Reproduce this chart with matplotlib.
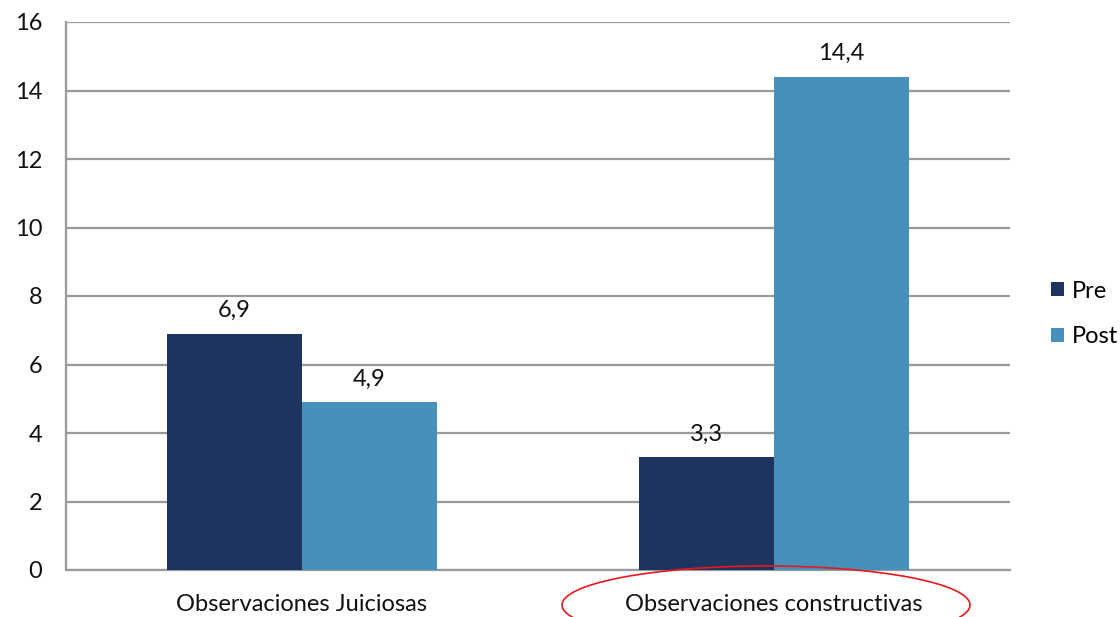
import matplotlib.pyplot as plt
import numpy as np
from matplotlib.patches import Ellipse

plt.rcParams['font.family'] = ['Lato', 'DejaVu Sans']

categorias = ["Observaciones Juiciosas", "Observaciones constructivas"]
series = ["Pre", "Post"]
pre = [6.9, 3.3]
post = [4.9, 14.4]
etiquetas_pre = ["6,9", "3,3"]
etiquetas_post = ["4,9", "14,4"]

color_pre = '#1d3461'
color_post = '#4690b9'
gris = '#9a9a9a'
tam = 17

fig = plt.figure(figsize=(11.2, 6.17), dpi=100)
ax = fig.add_axes([66 / 1120, 1 - 570 / 617, 944 / 1120, 548 / 617])

x = np.arange(len(categorias))
ancho = 0.286
b1 = ax.bar(x - ancho / 2, pre, ancho, color=color_pre, label=series[0], zorder=3)
b2 = ax.bar(x + ancho / 2, post, ancho, color=color_post, label=series[1], zorder=3)

for rects, textos in ((b1, etiquetas_pre), (b2, etiquetas_post)):
    for r, t in zip(rects, textos):
        ax.annotate(t, (r.get_x() + r.get_width() / 2, r.get_height()),
                    xytext=(0, 9), textcoords='offset points',
                    ha='center', va='bottom', fontsize=tam, color='#111111')

ax.set_xlim(-0.5, 1.5)
ax.set_ylim(0, 16)
ax.set_yticks(range(0, 17, 2))
ax.set_xticks(x)
ax.set_xticklabels(categorias)
ax.tick_params(axis='both', length=0, labelsize=tam, colors='#111111')
ax.tick_params(axis='y', pad=17)
ax.tick_params(axis='x', pad=17)
ax.yaxis.grid(True, color=gris, linewidth=1.6, zorder=0)

for lado in ('top', 'right'):
    ax.spines[lado].set_visible(False)
ax.spines['left'].set_color(gris)
ax.spines['left'].set_linewidth(1.6)
ax.spines['bottom'].set_color(gris)
ax.spines['bottom'].set_linewidth(1.6)

fig.legend(loc='center left', bbox_to_anchor=(1051 / 1120, 1 - 314 / 617),
           frameon=False, fontsize=tam, handlelength=0.55, handleheight=0.55,
           handletextpad=0.35, labelspacing=1.05, borderaxespad=0, borderpad=0)

# elipse roja alrededor de la segunda categoría
elipse = Ellipse((766 / 1120, 1 - 605 / 617), 408 / 1120, 78 / 617,
                 transform=fig.transFigure, fill=False, edgecolor='#e8191c',
                 linewidth=1.2)
fig.patches.append(elipse)

fig.savefig('out.png', dpi=100)
